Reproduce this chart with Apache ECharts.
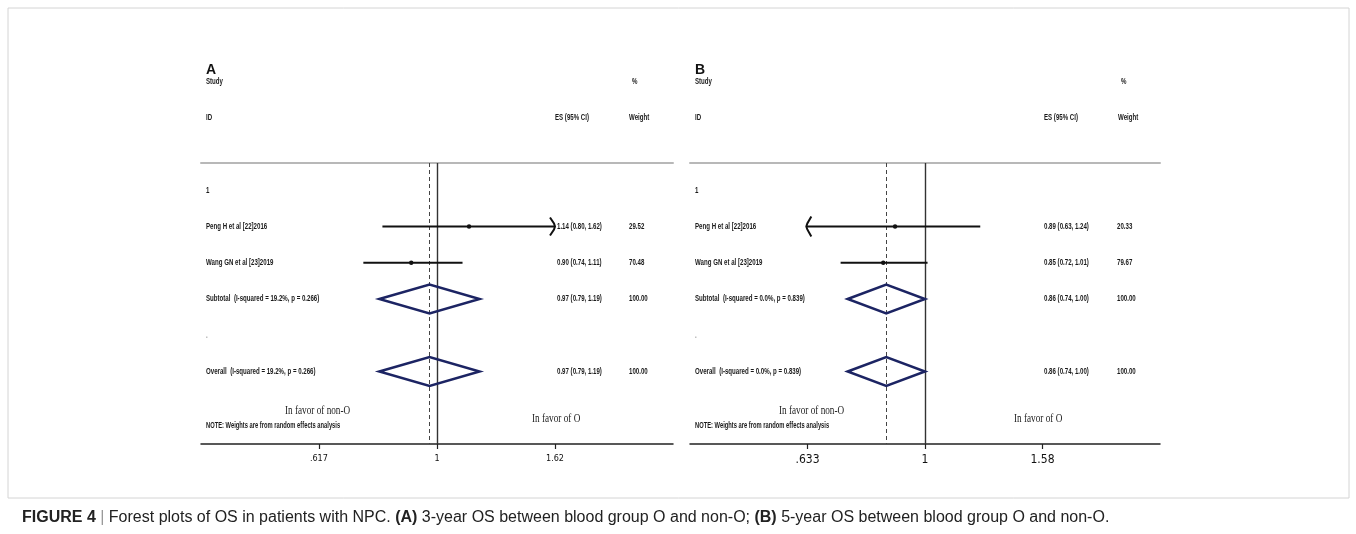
<!DOCTYPE html>
<html>
<head>
<meta charset="UTF-8">
<title>Forest plots of OS</title>
<style>
  html, body { margin: 0; padding: 0; background: #fff; }
  #main { width: 1356px; height: 534px; }
</style>
</head>
<body>
<div id="main"></div>
<script src="https://cdn.jsdelivr.net/npm/echarts@6.0.0/dist/echarts.min.js"></script>
<script>
// study names (same two studies in both panels)
var studyNames = ['Peng H et al [22]2016', 'Wang GN et al [23]2019'];

// A: 3-year OS
var esA = [1.14, 0.90];
var lowA = [0.80, 0.74];
var highA = [1.62, 1.11];
var weightA = [29.52, 70.48];
var arrowA = ['right', ''];
var pooledA = [0.97, 0.79, 1.19];   // ES, low, high
var hetA = [19.2, 0.266];           // I-squared, p
var ticksA = [0.617, 1, 1.62];
var tickLabelsA = ['.617', '1', '1.62'];

// B: 5-year OS
var esB = [0.89, 0.85];
var lowB = [0.63, 0.72];
var highB = [1.24, 1.01];
var weightB = [20.33, 79.67];
var arrowB = ['left', ''];
var pooledB = [0.86, 0.74, 1.00];
var hetB = [0.0, 0.839];
var ticksB = [0.633, 1, 1.58];
var tickLabelsB = ['.633', '1', '1.58'];

var NARROW = '"Liberation Sans Narrow", "Liberation Sans", Arial, sans-serif';
var SERIF = '"Liberation Serif", "DejaVu Serif", serif';
var SQ = 0.68;   // horizontal squeeze for the condensed Stata text

function fmt2(v) { return v.toFixed(2); }

// build table rows for one panel
function buildRows(es, low, high, weight, arrows, pooled, het) {
  var hetText = '(I-squared = ' + het[0].toFixed(1) + '%, p = ' + het[1].toFixed(3) + ')';
  var rows = [{ kind: 'group', row: 0, label: '1' }];
  for (var i = 0; i < es.length; i++) {
    rows.push({ kind: 'study', row: i + 1, label: studyNames[i], es: es[i], lo: low[i], hi: high[i], w: weight[i], arrow: arrows[i] });
  }
  rows.push({ kind: 'pool', row: 3, label: 'Subtotal  ' + hetText, es: pooled[0], lo: pooled[1], hi: pooled[2], w: 100 });
  rows.push({ kind: 'blank', row: 4, label: '.' });
  rows.push({ kind: 'pool', row: 5, label: 'Overall  ' + hetText, es: pooled[0], lo: pooled[1], hi: pooled[2], w: 100 });
  return rows;
}

// squeezed text element
function txt(s, x, y, opt) {
  opt = opt || {};
  return {
    type: 'text', x: x, y: y, scaleX: opt.sx || SQ,
    style: {
      text: s, x: 0, y: 0,
      fill: opt.fill || '#1a1a1a',
      fontSize: opt.size || 9,
      fontFamily: opt.family || NARROW,
      fontWeight: opt.weight || 'bold',
      align: 'left',
      verticalAlign: 'middle'
    }
  };
}

function makeRender(rows, esX, wX, favorL, favorR) {
  return function (params, api) {
    var r = rows[params.dataIndex];
    var cs = params.coordSys;
    var yc = api.coord([0, api.value(3)])[1];
    var ch = [];
    ch.push(txt(r.label, cs.x + 5, yc, { fill: r.kind === 'blank' ? '#999' : '#1a1a1a' }));
    // bottom notes go with the last row
    if (params.dataIndex === rows.length - 1) {
      var cx = api.coord([0, 6])[0];
      ch.push(txt('In favor of non-O', cx + favorL, api.coord([0, 6.1])[1], { family: SERIF, size: 11.5, fill: '#222', sx: 0.8, weight: 'normal' }));
      ch.push(txt('In favor of O', cx + favorR, api.coord([0, 6.3])[1], { family: SERIF, size: 11.5, fill: '#222', sx: 0.8, weight: 'normal' }));
      ch.push(txt('NOTE: Weights are from random effects analysis', cs.x + 5, api.coord([0, 6.5])[1], { size: 8.5 }));
    }
    if (r.kind !== 'study' && r.kind !== 'pool') return { type: 'group', children: ch };

    var p = api.coord([api.value(0), api.value(3)]);
    var a = api.coord([api.value(1), api.value(3)]);
    var b = api.coord([api.value(2), api.value(3)]);
    ch.push(txt(fmt2(r.es) + ' (' + fmt2(r.lo) + ', ' + fmt2(r.hi) + ')', cs.x + esX, yc));
    ch.push(txt(fmt2(r.w), cs.x + wX, yc));

    if (r.kind === 'study') {
      ch.push({ type: 'line', shape: { x1: a[0], y1: yc, x2: b[0], y2: yc }, style: { stroke: '#111', lineWidth: 2 } });
      ch.push({ type: 'circle', shape: { cx: p[0], cy: yc, r: 2.2 }, style: { fill: '#111' } });
      if (r.arrow === 'right') {
        ch.push({ type: 'polyline', shape: { points: [[b[0] - 5, yc - 9], [b[0] - 1, yc - 3], [b[0], yc], [b[0] - 1, yc + 3], [b[0] - 5, yc + 9]] }, style: { stroke: '#111', lineWidth: 2, fill: null } });
      } else if (r.arrow === 'left') {
        ch.push({ type: 'polyline', shape: { points: [[a[0] + 5, yc - 10], [a[0] + 1, yc - 3], [a[0], yc], [a[0] + 1, yc + 3], [a[0] + 5, yc + 10]] }, style: { stroke: '#111', lineWidth: 2, fill: null } });
      }
    } else {
      ch.push({
        type: 'polygon',
        shape: { points: [[a[0], yc], [p[0], yc - 14.5], [b[0], yc], [p[0], yc + 14.5]] },
        style: { stroke: '#1c2463', lineWidth: 2.5, fill: null }
      });
    }
    return { type: 'group', children: ch };
  };
}

function rowData(rows) {
  return rows.map(function (r) {
    return r.es ? [Math.log(r.es), Math.log(r.lo), Math.log(r.hi), r.row] : [0, 0, 0, r.row];
  });
}

var rowsA = buildRows(esA, lowA, highA, weightA, arrowA, pooledA, hetA);
var rowsB = buildRows(esB, lowB, highB, weightB, arrowB, pooledB, hetB);

var stepA = Math.log(ticksA[2]);
var stepB = Math.log(ticksB[2]);

function bottomAxis(idx, step, ticks, labels, size) {
  var lv = ticks.map(Math.log);
  return {
    gridIndex: idx, type: 'value', position: 'bottom',
    min: -2 * step, max: 2 * step,
    splitLine: { show: false },
    axisLine: { onZero: false, lineStyle: { color: '#222', width: 1.5 } },
    axisTick: { customValues: lv, length: 5, lineStyle: { color: '#222', width: 1.2 } },
    axisLabel: {
      customValues: lv, margin: 10, color: '#111', fontSize: size, fontFamily: '"Liberation Sans Narrow", "DejaVu Sans Condensed", sans-serif',
      formatter: function (v) {
        for (var i = 0; i < lv.length; i++) if (Math.abs(lv[i] - v) < 1e-6) return labels[i];
        return '';
      }
    }
  };
}
function topAxis(idx, step) {
  return {
    gridIndex: idx, type: 'value', position: 'top',
    min: -2 * step, max: 2 * step,
    splitLine: { show: false }, axisTick: { show: false }, axisLabel: { show: false },
    axisLine: { onZero: false, lineStyle: { color: '#b8b8b8', width: 2 } }
  };
}
function rowAxis(idx) {
  return { gridIndex: idx, type: 'value', inverse: true, min: -0.75, max: 7, show: false };
}
function refLines(xi, yi, pooledEs) {
  return {
    type: 'line', xAxisIndex: xi, yAxisIndex: yi, data: [], silent: true,
    markLine: {
      symbol: 'none', silent: true, label: { show: false },
      data: [
        { xAxis: 0, lineStyle: { color: '#333', width: 1.4, type: 'solid' } },
        { xAxis: Math.log(pooledEs), lineStyle: { color: '#444', width: 1, type: [4, 3] } }
      ]
    }
  };
}

// header texts above each table
function headers(left, tag) {
  return [
    { type: 'text', x: left + 5, y: 70, style: { text: tag, verticalAlign: 'middle', fontSize: 14, fontWeight: 'bold', fill: '#111', fontFamily: '"Liberation Sans", Arial, sans-serif' } },
    txt('Study', left + 5, 82),
    txt('%', left + 431, 82),
    txt('ID', left + 5, 118),
    txt('ES (95% CI)', left + 354, 118),
    txt('Weight', left + 428, 118)
  ];
}

var chart = echarts.init(document.getElementById('main'));

var option = {
  backgroundColor: '#fff',
  animation: false,
  grid: [
    { left: 201, top: 163, width: 472, height: 281 },
    { left: 690, top: 163, width: 470, height: 281 }
  ],
  xAxis: [
    bottomAxis(0, stepA, ticksA, tickLabelsA, 9),
    bottomAxis(1, stepB, ticksB, tickLabelsB, 12),
    topAxis(0, stepA),
    topAxis(1, stepB)
  ],
  yAxis: [rowAxis(0), rowAxis(1)],
  series: [
    refLines(0, 0, pooledA[0]),
    refLines(1, 1, pooledB[0]),
    { type: 'custom', xAxisIndex: 0, yAxisIndex: 0, renderItem: makeRender(rowsA, 356, 428, -152, 95), data: rowData(rowsA), clip: false, z: 5 },
    { type: 'custom', xAxisIndex: 1, yAxisIndex: 1, renderItem: makeRender(rowsB, 354, 427, -146, 89), data: rowData(rowsB), clip: false, z: 5 }
  ],
  graphic: [
    { type: 'rect', shape: { x: 8, y: 8, width: 1341, height: 490 }, style: { stroke: '#d4d4d4', lineWidth: 1, fill: null } }
  ].concat(headers(201, 'A'), headers(690, 'B'), [
    {
      type: 'text', x: 22, y: 518,
      style: {
        text: '{b|FIGURE 4} {s||} Forest plots of OS in patients with NPC. {b|(A)} 3-year OS between blood group O and non-O; {b|(B)} 5-year OS between blood group O and non-O.',
        verticalAlign: 'middle', fontSize: 16, fill: '#222', fontFamily: '"Liberation Sans", Arial, sans-serif',
        rich: {
          b: { fontWeight: 'bold', fontSize: 16, fill: '#222', fontFamily: '"Liberation Sans", Arial, sans-serif' },
          s: { fontSize: 16, fill: '#999', fontFamily: '"Liberation Sans", Arial, sans-serif' }
        }
      }
    }
  ])
};

chart.setOption(option);
</script>
</body>
</html>
